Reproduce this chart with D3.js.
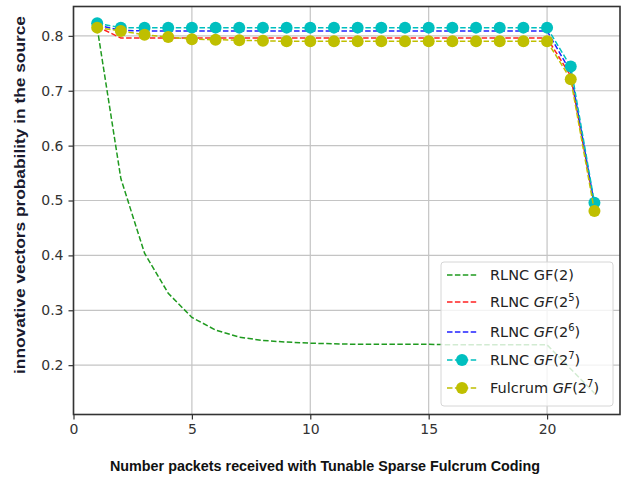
<!DOCTYPE html>
<html>
<head>
<meta charset="utf-8">
<script src="https://cdn.jsdelivr.net/npm/d3@7"></script>
<style>
  html, body { margin: 0; padding: 0; background: #fff; }
</style>
</head>
<body>
<script>
// Data.
const xs = d3.range(1, 23);
const rlncGF2  = [0.815, 0.540, 0.404, 0.331, 0.287, 0.264, 0.251, 0.245, 0.242, 0.240, 0.239, 0.238, 0.238, 0.238, 0.238, 0.237, 0.237, 0.237, 0.237, 0.237, 0.193, 0.149];
const rlncGF25 = [0.817, 0.796, 0.796, 0.796, 0.796, 0.796, 0.796, 0.796, 0.796, 0.796, 0.796, 0.796, 0.796, 0.796, 0.796, 0.796, 0.796, 0.796, 0.796, 0.796, 0.727, 0.490];
const rlncGF26 = [0.820, 0.810, 0.809, 0.809, 0.809, 0.809, 0.809, 0.809, 0.809, 0.809, 0.809, 0.809, 0.809, 0.809, 0.809, 0.809, 0.809, 0.809, 0.809, 0.809, 0.734, 0.493];
const rlncGF27 = [0.823, 0.815, 0.815, 0.815, 0.815, 0.815, 0.815, 0.815, 0.815, 0.815, 0.815, 0.815, 0.815, 0.815, 0.815, 0.815, 0.815, 0.815, 0.815, 0.815, 0.744, 0.496];
const fulcrum  = [0.815, 0.809, 0.802, 0.798, 0.794, 0.793, 0.792, 0.791, 0.790, 0.790, 0.790, 0.790, 0.790, 0.790, 0.790, 0.790, 0.790, 0.790, 0.790, 0.790, 0.721, 0.481];

const xTicks = [0, 5, 10, 15, 20];
const yTicks = [0.2, 0.3, 0.4, 0.5, 0.6, 0.7, 0.8];

const series = [
  { name: ["RLNC GF(2)"],        values: rlncGF2,  color: "#1f9a1f", marker: false },
  { name: ["RLNC ", "GF", "(2", "5", ")"], values: rlncGF25, color: "#ff2020", marker: false },
  { name: ["RLNC ", "GF", "(2", "6", ")"], values: rlncGF26, color: "#2020ff", marker: false },
  { name: [" RLNC ", "GF", "(2", "7", ")"], values: rlncGF27, color: "#00bfbf", marker: true },
  { name: ["Fulcrum ", "GF", "(2", "7", ")"], values: fulcrum, color: "#bfbf00", marker: true }
];

// ---------------------------------------------------------------------------
// Layout
// ---------------------------------------------------------------------------

const width = 630, height = 477;
const plot = { left: 73.5, right: 620, top: 6.5, bottom: 414.5 };

const svg = d3.select("body").append("svg")
  .attr("width", width)
  .attr("height", height)
  .attr("font-family", "DejaVu Sans, sans-serif");

svg.append("rect").attr("width", width).attr("height", height).attr("fill", "#fff");

const x = d3.scaleLinear().domain([0, 23.08]).range([plot.left, plot.right]);
const y = d3.scaleLinear().domain([0.1101, 0.8535]).range([plot.bottom, plot.top]);

// Grid.
const grid = svg.append("g").attr("stroke", "#c4c4c4").attr("stroke-width", 1.2);
grid.selectAll("line.gx").data(xTicks).join("line")
  .attr("x1", d => x(d)).attr("x2", d => x(d))
  .attr("y1", plot.top).attr("y2", plot.bottom);
grid.selectAll("line.gy").data(yTicks).join("line")
  .attr("x1", plot.left).attr("x2", plot.right)
  .attr("y1", d => y(d)).attr("y2", d => y(d));

// Series.
svg.append("clipPath").attr("id", "clip")
  .append("rect")
  .attr("x", plot.left).attr("y", plot.top)
  .attr("width", plot.right - plot.left).attr("height", plot.bottom - plot.top);

const line = d3.line().x((d, i) => x(xs[i])).y(d => y(d));
const marks = svg.append("g").attr("clip-path", "url(#clip)");

for (const s of series) {
  marks.append("path")
    .attr("d", line(s.values))
    .attr("fill", "none")
    .attr("stroke", s.color)
    .attr("stroke-width", 1.5)
    .attr("stroke-dasharray", "5.5,2.4");
  if (s.marker) {
    marks.append("g").selectAll("circle").data(s.values).join("circle")
      .attr("cx", (d, i) => x(xs[i]))
      .attr("cy", d => y(d))
      .attr("r", 6)
      .attr("fill", s.color);
  }
}

// Axes frame.
svg.append("rect")
  .attr("x", plot.left).attr("y", plot.top)
  .attr("width", plot.right - plot.left).attr("height", plot.bottom - plot.top)
  .attr("fill", "none").attr("stroke", "#333").attr("stroke-width", 1.6);

const xAxis = d3.axisBottom(x).tickValues(xTicks).tickFormat(d3.format("d")).tickSize(5).tickPadding(5);
const gx = svg.append("g").attr("transform", `translate(0,${plot.bottom})`).call(xAxis);
gx.select(".domain").remove();
gx.selectAll("line").attr("stroke", "#333").attr("stroke-width", 1.2);
gx.selectAll("text").attr("font-size", 14).attr("fill", "#333").attr("font-family", "DejaVu Sans, sans-serif");

const yAxis = d3.axisLeft(y).tickValues(yTicks).tickFormat(d3.format(".1f")).tickSize(5).tickPadding(5);
const gy = svg.append("g").attr("transform", `translate(${plot.left},0)`).call(yAxis);
gy.select(".domain").remove();
gy.selectAll("line").attr("stroke", "#333").attr("stroke-width", 1.2);
gy.selectAll("text").attr("font-size", 14).attr("fill", "#333").attr("font-family", "DejaVu Sans, sans-serif");

// Axis titles.
svg.append("text")
  .attr("x", 325).attr("y", 471)
  .attr("text-anchor", "middle")
  .attr("font-family", "Liberation Sans, Arial, sans-serif")
  .attr("font-weight", "bold")
  .attr("font-size", 14)
  .attr("textLength", 430)
  .attr("lengthAdjust", "spacingAndGlyphs")
  .attr("fill", "#111")
  .text("Number packets received with Tunable Sparse Fulcrum Coding");

svg.append("text")
  .attr("transform", "translate(25,195) rotate(-90)")
  .attr("text-anchor", "middle")
  .attr("font-family", "Liberation Sans, Arial, sans-serif")
  .attr("font-weight", "bold")
  .attr("font-size", 14)
  .attr("textLength", 358)
  .attr("lengthAdjust", "spacingAndGlyphs")
  .attr("fill", "#1a1a2e")
  .text("innovative vectors probability in the source");

// Legend.
const legend = svg.append("g").attr("transform", "translate(441,262)");
legend.append("rect")
  .attr("width", 172).attr("height", 144).attr("rx", 3)
  .attr("fill", "#fff").attr("fill-opacity", 0.8)
  .attr("stroke", "#d6d6d6").attr("stroke-width", 1);

const rowY = [13, 40, 70, 98, 126];
series.forEach((s, i) => {
  const row = legend.append("g").attr("transform", `translate(0,${rowY[i]})`);
  row.append("line")
    .attr("x1", 6).attr("x2", 36).attr("y1", 0).attr("y2", 0)
    .attr("stroke", s.color).attr("stroke-width", 1.5)
    .attr("stroke-dasharray", "5.5,2.4");
  if (s.marker) row.append("circle").attr("cx", 21).attr("cy", 0).attr("r", 6).attr("fill", s.color);
  const t = row.append("text")
    .attr("x", 49).attr("y", 5)
    .attr("font-size", 14.5).attr("fill", "#222");
  if (s.name.length === 1) {
    t.text(s.name[0]);
  } else {
    t.append("tspan").text(s.name[0]);
    t.append("tspan").attr("font-style", "italic").text(s.name[1]);
    t.append("tspan").text(s.name[2]);
    t.append("tspan").attr("font-size", 10).attr("dy", -6).text(s.name[3]);
    t.append("tspan").attr("dy", 6).text(s.name[4]);
  }
});
</script>
</body>
</html>
